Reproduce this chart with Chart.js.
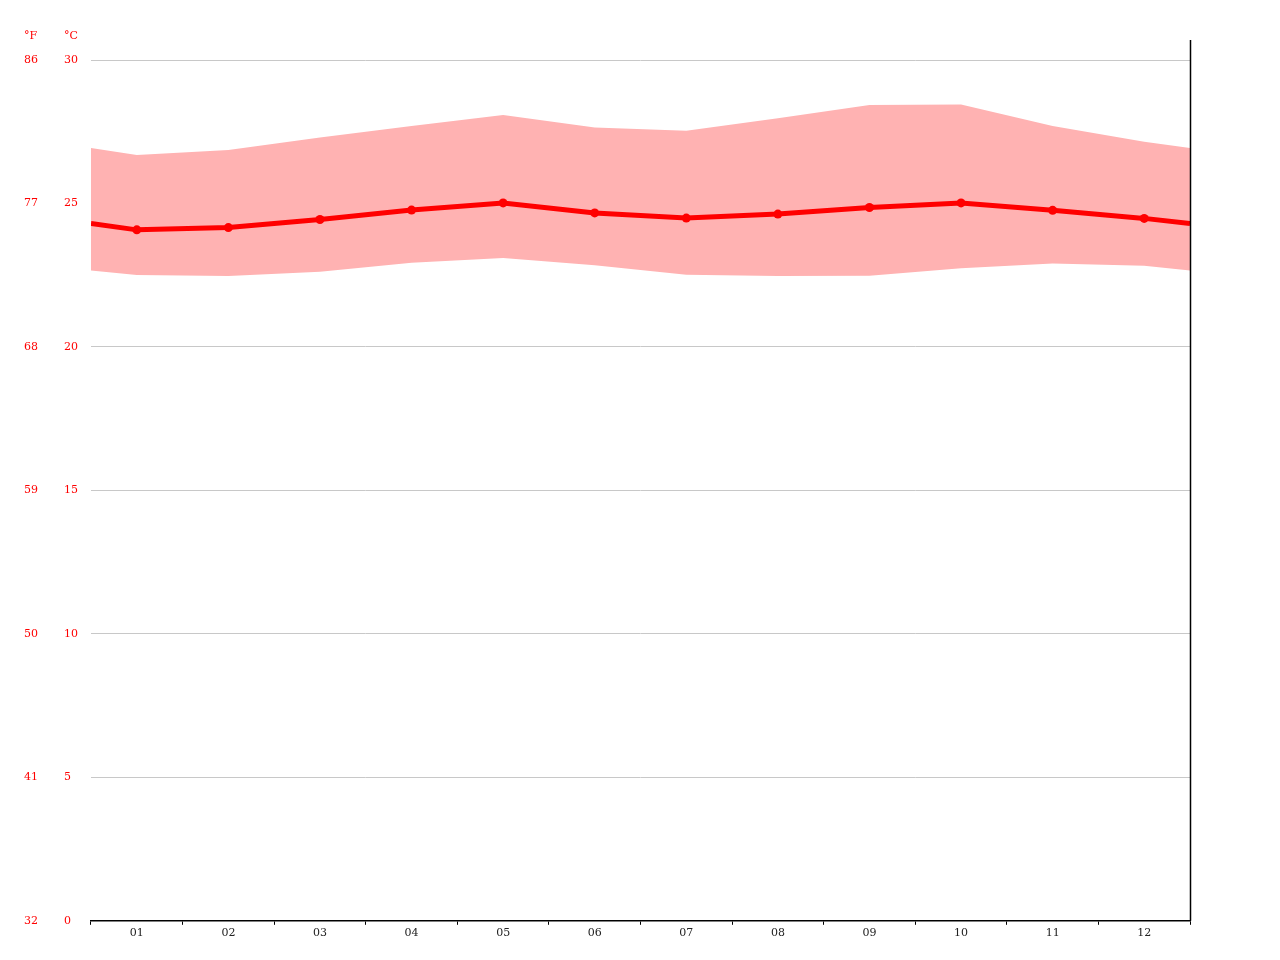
<!DOCTYPE html>
<html>
<head>
<meta charset="utf-8">
<script src="https://cdn.jsdelivr.net/npm/chart.js@4/dist/chart.umd.min.js"></script>
<style>
  html, body { margin: 0; padding: 0; background: #fff; }
  #wrap { width: 1280px; height: 960px; }
</style>
</head>
<body>
<div id="wrap"><canvas id="klima"></canvas></div>
<script>
// months
const months = ['01', '02', '03', '04', '05', '06', '07', '08', '09', '10', '11', '12'];

// average temperature (°C)
const tempAvg = [24.08, 24.16, 24.44, 24.77, 25.02, 24.67, 24.49, 24.63, 24.86, 25.02, 24.76, 24.48];
// max / min temperature band (°C)
const tempMax = [26.69, 26.86, 27.30, 27.70, 28.08, 27.65, 27.53, 27.97, 28.43, 28.45, 27.70, 27.15];
const tempMin = [22.51, 22.47, 22.62, 22.93, 23.10, 22.85, 22.52, 22.47, 22.48, 22.74, 22.91, 22.83];

// values at the left/right edge of the plot
const edgeAvg = 24.30;
const edgeMax = 26.93;
const edgeMin = 22.66;

// celsius ticks
const celsiusTicks = [0, 5, 10, 15, 20, 25, 30];

const FONT = 'DejaVu Serif';

// month series -> points on linear axis (0..11), with edge points at -0.5 and 11.5
function toPoints(vals, edge) {
  const pts = [{ x: -0.5, y: edge }];
  vals.forEach((v, i) => pts.push({ x: i, y: v }));
  pts.push({ x: months.length - 0.5, y: edge });
  return pts;
}

// no dots on the edge points
const dotRadius = ctx => (ctx.dataIndex === 0 || ctx.dataIndex === months.length + 1) ? 0 : 4.5;

// right vertical line and unit headers
const extras = {
  id: 'extras',
  afterDraw(chart) {
    const ctx = chart.ctx;
    const area = chart.chartArea;
    ctx.save();
    ctx.strokeStyle = '#000';
    ctx.lineWidth = 1.5;
    ctx.beginPath();
    ctx.moveTo(area.right + 0.5, 40);
    ctx.lineTo(area.right + 0.5, area.bottom);
    ctx.stroke();

    ctx.fillStyle = 'red';
    ctx.font = '11px "' + FONT + '"';
    ctx.textBaseline = 'middle';
    ctx.textAlign = 'left';
    ctx.fillText('°F', chart.scales.yF.left, 36);
    ctx.fillText('°C', chart.scales.y.left, 36);
    ctx.restore();
  }
};

new Chart(document.getElementById('klima'), {
  type: 'line',
  data: {
    labels: months,
    datasets: [
      {
        label: 'avg',
        data: toPoints(tempAvg, edgeAvg),
        xAxisID: 'xl',
        borderColor: '#ff0000',
        backgroundColor: '#ff0000',
        borderWidth: 5,
        pointRadius: dotRadius,
        pointHoverRadius: dotRadius,
        pointBorderWidth: 0,
        tension: 0,
        fill: false,
        order: 0
      },
      {
        label: 'max',
        data: toPoints(tempMax, edgeMax),
        xAxisID: 'xl',
        borderWidth: 0,
        pointRadius: 0,
        backgroundColor: 'rgb(255,178,178)',
        fill: '+1',
        tension: 0,
        order: 1
      },
      {
        label: 'min',
        data: toPoints(tempMin, edgeMin),
        xAxisID: 'xl',
        borderWidth: 0,
        pointRadius: 0,
        backgroundColor: 'rgb(255,178,178)',
        fill: false,
        tension: 0,
        order: 2
      }
    ]
  },
  options: {
    responsive: true,
    maintainAspectRatio: false,
    animation: false,
    layout: { padding: { top: 60, right: 90, left: 24, bottom: 18 } },
    plugins: {
      legend: { display: false },
      tooltip: { enabled: false },
      title: { display: false }
    },
    scales: {
      x: {
        type: 'category',
        offset: true,
        grid: {
          offset: true,
          drawOnChartArea: false,
          drawTicks: true,
          tickLength: 4,
          color: '#000'
        },
        border: { display: true, color: '#000', width: 1.5 },
        ticks: {
          color: '#222',
          font: { family: FONT, size: 11 },
          padding: 2,
          maxRotation: 0,
          autoSkip: false
        }
      },
      xl: {
        type: 'linear',
        display: false,
        min: -0.5,
        max: months.length - 0.5
      },
      y: {
        position: 'left',
        min: 0,
        max: 30,
        weight: 0,
        afterBuildTicks: s => { s.ticks = celsiusTicks.map(v => ({ value: v })); },
        afterFit: s => { s.width = 27; },
        grid: { color: '#c8c8c8', lineWidth: 1, drawTicks: false },
        border: { display: false },
        ticks: {
          color: 'red',
          crossAlign: 'far',
          padding: 0,
          font: { family: FONT, size: 11 }
        }
      },
      yF: {
        position: 'left',
        min: 0,
        max: 30,
        weight: 1,
        afterBuildTicks: s => { s.ticks = celsiusTicks.map(v => ({ value: v })); },
        afterFit: s => { s.width = 40; },
        grid: { display: false, drawTicks: false },
        border: { display: false },
        ticks: {
          color: 'red',
          crossAlign: 'far',
          padding: 0,
          font: { family: FONT, size: 11 },
          callback: v => Math.round(v * 9 / 5 + 32)
        }
      }
    }
  },
  plugins: [extras]
});
</script>
</body>
</html>
